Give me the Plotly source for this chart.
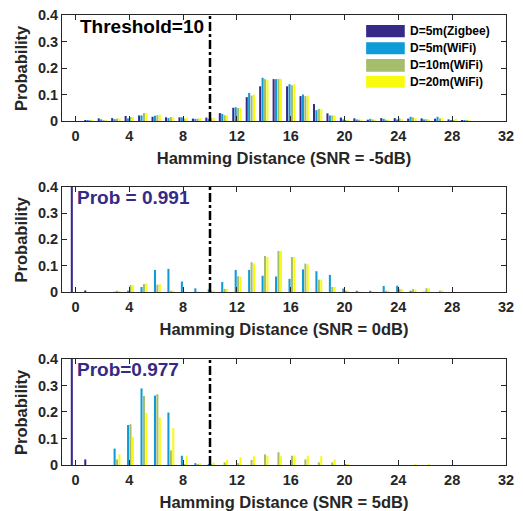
import plotly.graph_objects as go
from plotly.subplots import make_subplots

distance = list(range(31))
series_names = ["D=5m(Zigbee)", "D=5m(WiFi)", "D=10m(WiFi)", "D=20m(WiFi)"]
colors = ["#352A87", "#0F9BD7", "#A5BE6B", "#F9FB0E"]
x_titles = ["Hamming Distance (SNR = -5dB)", "Hamming Distance (SNR = 0dB)", "Hamming Distance (SNR = 5dB)"]
x_ticks = [0, 4, 8, 12, 16, 20, 24, 28, 32]
y_ticks = [0, 0.1, 0.2, 0.3, 0.4]
y_ticklabels = ["0", "0.1", "0.2", "0.3", "0.4"]
threshold = 10

# SNR = -5 dB
m5_zigbee5 = [0, 0.003, 0.010, 0.011, 0.019, 0.021, 0.016, 0.014, 0.014, 0.009, 0.013, 0.030, 0.050, 0.090, 0.131, 0.158,
              0.131, 0.094, 0.064, 0.029, 0.013, 0.010, 0.005, 0.011, 0.011, 0.009, 0.010, 0.009, 0.006, 0.002, 0]
m5_wifi5 = [0, 0.001, 0.006, 0.007, 0.010, 0.021, 0.020, 0.011, 0.014, 0.008, 0.008, 0.027, 0.052, 0.106, 0.163, 0.158,
            0.139, 0.100, 0.041, 0.021, 0.006, 0.006, 0.008, 0.008, 0.006, 0.016, 0.006, 0.016, 0.003, 0.001, 0]
m5_wifi10 = [0, 0.001, 0.004, 0.009, 0.015, 0.030, 0.022, 0.015, 0.009, 0.009, 0.010, 0.022, 0.049, 0.096, 0.158, 0.159,
             0.135, 0.094, 0.046, 0.021, 0.004, 0.005, 0.006, 0.005, 0.010, 0.014, 0.007, 0.010, 0.004, 0.001, 0]
m5_wifi20 = [0, 0.002, 0.004, 0.010, 0.015, 0.030, 0.024, 0.014, 0.013, 0.011, 0.011, 0.021, 0.049, 0.100, 0.155, 0.159,
             0.139, 0.096, 0.044, 0.020, 0.005, 0.005, 0.005, 0.005, 0.007, 0.011, 0.006, 0.011, 0.009, 0.001, 0]

# SNR = 0 dB
z_zigbee5 = [0.991, 0.006, 0, 0, 0, 0, 0, 0, 0, 0, 0, 0, 0, 0, 0, 0,
             0, 0, 0, 0, 0, 0, 0, 0, 0, 0, 0, 0, 0, 0, 0]
z_wifi5 = [0, 0, 0, 0.001, 0.005, 0.019, 0.084, 0.088, 0.040, 0.014, 0.010, 0.038, 0.084, 0.084, 0.062, 0.059,
           0.050, 0.086, 0.079, 0.065, 0.013, 0.003, 0.005, 0.023, 0.024, 0.002, 0.001, 0, 0, 0, 0]
z_wifi10 = [0, 0, 0, 0.003, 0.026, 0.030, 0.028, 0.005, 0.001, 0.001, 0.002, 0.012, 0.060, 0.113, 0.137, 0.156,
            0.133, 0.108, 0.047, 0.019, 0.003, 0.001, 0.001, 0.005, 0.012, 0.011, 0.014, 0.003, 0, 0, 0]
z_wifi20 = [0, 0, 0, 0.004, 0.026, 0.033, 0.030, 0.004, 0.001, 0.001, 0.003, 0.012, 0.058, 0.108, 0.133, 0.156,
            0.133, 0.105, 0.047, 0.019, 0.003, 0.001, 0.001, 0.004, 0.011, 0.010, 0.014, 0.006, 0, 0, 0]

# SNR = 5 dB
p5_zigbee5 = [0.977, 0.021, 0, 0, 0, 0, 0, 0, 0, 0, 0, 0, 0, 0, 0, 0,
              0, 0, 0, 0, 0, 0, 0, 0, 0, 0, 0, 0, 0, 0, 0]
p5_wifi5 = [0, 0, 0, 0.062, 0.151, 0.289, 0.262, 0.198, 0.035, 0.007, 0.001, 0, 0, 0, 0, 0,
            0, 0, 0, 0, 0, 0, 0, 0, 0, 0, 0, 0, 0, 0, 0]
p5_wifi10 = [0, 0, 0, 0.021, 0.154, 0.261, 0.267, 0.055, 0.002, 0.002, 0.001, 0.010, 0.007, 0.019, 0.040, 0.048,
             0.035, 0.021, 0.010, 0.010, 0.004, 0, 0, 0, 0, 0, 0, 0, 0, 0, 0]
p5_wifi20 = [0, 0, 0, 0.040, 0.106, 0.196, 0.180, 0.139, 0.033, 0.007, 0.009, 0.019, 0.029, 0.033, 0.033, 0.033,
             0.035, 0.035, 0.033, 0.021, 0.002, 0, 0, 0, 0, 0.002, 0.001, 0, 0, 0, 0]

panels = [
    [m5_zigbee5, m5_wifi5, m5_wifi10, m5_wifi20],
    [z_zigbee5, z_wifi5, z_wifi10, z_wifi20],
    [p5_zigbee5, p5_wifi5, p5_wifi10, p5_wifi20],
]
prob_labels = [None, "Prob = 0.991", "Prob=0.977"]

FONT = "Liberation Sans, Arial, sans-serif"
INK = "#262626"

fig = make_subplots(rows=3, cols=1)
domains = [[0.7644, 1.0], [0.3844, 0.6184], [0.0, 0.2356]]

for r, series in enumerate(panels, start=1):
    for name, vals, col in zip(series_names, series, colors):
        fig.add_trace(go.Bar(x=distance, y=vals, name=name, marker_color=col,
                             marker_line_width=0, showlegend=False), row=r, col=1)
    ax = "" if r == 1 else str(r)
    fig.update_xaxes(row=r, col=1, range=[-1, 32], tickvals=x_ticks, ticks="inside", ticklen=5,
                     tickcolor=INK, showline=True, linecolor=INK, linewidth=1, mirror="ticks",
                     showgrid=False, zeroline=False, automargin=False, domain=[0, 1],
                     ticklabelstandoff=2, ticklabeloverflow="allow",
                     tickfont=dict(family=FONT, size=14.5, color=INK, weight="bold"),
                     title=dict(text=x_titles[r - 1], standoff=9,
                                font=dict(family=FONT, size=16.5, color=INK, weight="bold")))
    fig.update_yaxes(row=r, col=1, range=[0, 0.4], tickvals=y_ticks, ticktext=y_ticklabels,
                     ticks="inside", ticklen=5, tickcolor=INK, showline=True, linecolor=INK,
                     linewidth=1, mirror="ticks", showgrid=False, zeroline=False, automargin=False,
                     domain=domains[r - 1], ticklabeloverflow="allow",
                     tickfont=dict(family=FONT, size=14.5, color=INK, weight="bold"))
    # y-axis title placed like the original
    fig.add_annotation(xref="paper", yref="y" + ax + " domain", x=-0.0923, y=0.5, xanchor="center",
                       yanchor="middle", textangle=-90, showarrow=False, text="Probability",
                       font=dict(family=FONT, size=16.5, color=INK, weight="bold"))
    fig.add_shape(type="line", xref="x" + ax, yref="y" + ax + " domain", x0=threshold, x1=threshold,
                  y0=0, y1=1, line=dict(color="black", width=2.5, dash="dashdot"))
    if prob_labels[r - 1]:
        fig.add_annotation(xref="x" + ax + " domain", yref="y" + ax + " domain", x=0.03, y=0.90,
                           xanchor="left", yanchor="middle", showarrow=False, text=prob_labels[r - 1],
                           font=dict(family=FONT, size=19, color=colors[0], weight="bold"))

fig.add_annotation(xref="x domain", yref="y domain", x=0.036, y=0.89, xanchor="left", yanchor="middle",
                   showarrow=False, text="Threshold=" + str(threshold),
                   font=dict(family=FONT, size=19, color="black", weight="bold"))

# legend (manual, wide swatches like the original)
sw_y = [(0.790, 0.906), (0.630, 0.742), (0.465, 0.585), (0.314, 0.425)]
for (y0, y1), name, col in zip(sw_y, series_names, colors):
    fig.add_shape(type="rect", xref="x domain", yref="y domain", x0=0.685, x1=0.772, y0=y0, y1=y1,
                  fillcolor=col, line_width=0)
    fig.add_annotation(xref="x domain", yref="y domain", x=0.779, y=(y0 + y1) / 2, xanchor="left",
                       yanchor="middle", showarrow=False, text=name,
                       font=dict(family=FONT, size=12, color="black", weight="bold"))

fig.update_layout(width=523, height=511, margin=dict(l=62, r=17, t=15, b=46),
                  barmode="group", bargap=0.28, bargroupgap=0.15,
                  plot_bgcolor="white", paper_bgcolor="white", showlegend=False)

fig.write_html("out.html", config={"displayModeBar": False},
               post_script="document.body.style.margin='0';")
